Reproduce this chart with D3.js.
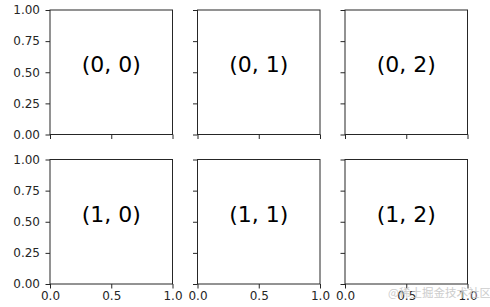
<!DOCTYPE html>
<html>
<head>
<meta charset="utf-8">
<script src="https://cdn.jsdelivr.net/npm/d3@7"></script>
<style>
  html, body { margin: 0; padding: 0; background: #fff; }
  svg { display: block; }
  text { font-family: "DejaVu Sans", sans-serif; }
</style>
</head>
<body>
<svg id="chart" width="490" height="307"></svg>
<script>
const rowIndex = [0, 1];
const colIndex = [0, 1, 2];
const panelLabels = [["(0, 0)", "(0, 1)", "(0, 2)"], ["(1, 0)", "(1, 1)", "(1, 2)"]];
const xTicks = [0, 0.5, 1];
const yTicks = [0, 0.25, 0.5, 0.75, 1];
const xTickLabels = ["0.0", "0.5", "1.0"];
const yTickLabels = ["0.00", "0.25", "0.50", "0.75", "1.00"];
const watermark = "@稀土掘金技术社区";

const svg = d3.select("#chart");
const marginLeft = 50, marginTop = 10, panelW = 122.5, panelH = 124.5, gapX = 25, gapY = 25;
const ink = "#262626";

const colX = d3.scaleOrdinal().domain(colIndex).range(colIndex.map(c => marginLeft + c * (panelW + gapX)));
const rowY = d3.scaleOrdinal().domain(rowIndex).range(rowIndex.map(r => marginTop + r * (panelH + gapY)));

rowIndex.forEach(r => {
  colIndex.forEach(c => {
    const g = svg.append("g").attr("transform", `translate(${colX(c)},${rowY(r)})`);
    const x = d3.scaleLinear().domain([0, 1]).range([0, panelW]);
    const y = d3.scaleLinear().domain([0, 1]).range([panelH, 0]);

    const yAxis = d3.axisLeft(y).tickValues(yTicks).tickSize(4.5).tickPadding(5.5)
      .tickFormat((d, i) => c === 0 ? yTickLabels[i] : "");
    const xAxis = d3.axisBottom(x).tickValues(xTicks).tickSize(4.5).tickPadding(3)
      .tickFormat((d, i) => r === rowIndex.length - 1 ? xTickLabels[i] : "");

    const ya = g.append("g").call(yAxis);
    const xa = g.append("g").attr("transform", `translate(0,${panelH})`).call(xAxis);
    [ya, xa].forEach(a => {
      a.select(".domain").remove();
      a.selectAll("line").attr("stroke", ink).attr("stroke-width", 1);
      a.selectAll("text").attr("fill", ink).style("font-size", "12px")
        .style("font-family", "'DejaVu Sans', sans-serif");
    });

    g.append("rect").attr("x", 0).attr("y", 0).attr("width", panelW).attr("height", panelH)
      .attr("fill", "none").attr("stroke", ink).attr("stroke-width", 1);

    g.append("text").attr("x", x(0.5)).attr("y", y(0.5))
      .attr("text-anchor", "middle").attr("fill", "#000")
      .style("font-size", "22px").text(panelLabels[r][c]);
  });
});

svg.append("text").attr("x", 388).attr("y", 297)
  .attr("fill", "#c8c8c8").attr("opacity", 0.9)
  .style("font-family", "'Noto Sans CJK SC', sans-serif").style("font-size", "11.5px")
  .text(watermark);
</script>
</body>
</html>
